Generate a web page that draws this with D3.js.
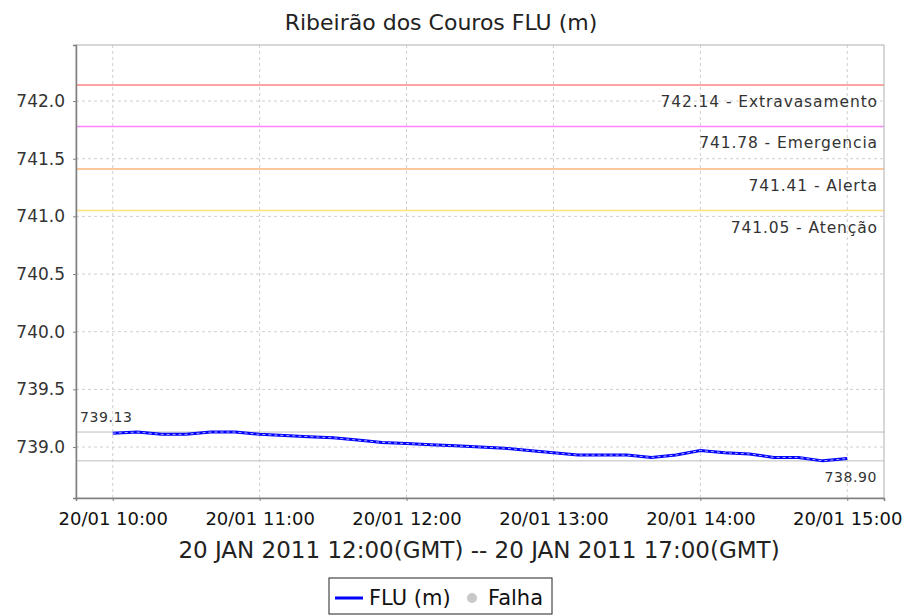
<!DOCTYPE html>
<html>
<head>
<meta charset="utf-8">
<script src="https://cdn.jsdelivr.net/npm/d3@7"></script>
<style>
  body { margin: 0; background: #fff; }
  text { font-family: "DejaVu Sans", sans-serif; }
</style>
</head>
<body>
<div id="chart"></div>
<script>
// data
const times = ["10:00","10:10","10:20","10:30","10:40","10:50","11:00","11:10","11:20","11:30","11:40","11:50",
  "12:00","12:10","12:20","12:30","12:40","12:50","13:00","13:10","13:20","13:30","13:40","13:50",
  "14:00","14:10","14:20","14:30","14:40","14:50","15:00"]
const levels = [739.12,739.13,739.11,739.11,739.13,739.13,739.11,739.10,739.09,739.08,739.06,739.04,
  739.03,739.02,739.01,739.00,738.99,738.97,738.95,738.93,738.93,738.93,738.91,738.93,
  738.97,738.95,738.94,738.91,738.91,738.88,738.90]
const limitValues = [742.14, 741.78, 741.41, 741.05]
const limitNames = ["Extravasamento", "Emergencia", "Alerta", "Atenção"]
const limitColors = ["#ff8484", "#ff84ff", "#ffb474", "#ffe27a"]
const yTicks = [739.0, 739.5, 740.0, 740.5, 741.0, 741.5, 742.0]
const xTicks = ["10:00","11:00","12:00","13:00","14:00","15:00"]
const day = "2011-01-20"

const W = 903, H = 615
let margin = {top: 45, right: 19, bottom: 117, left: 76}
let pxX = W - margin.left - margin.right,
    pxY = H - margin.top - margin.bottom

let parse = d3.utcParse("%Y-%m-%d %H:%M")
let fmt = d3.utcFormat("%d/%m %H:%M")
let points = times.map((t, i) => ({t: parse(day + " " + t), v: levels[i]}))

let scX = d3.scaleUtc()
  .domain([parse(day + " 09:45"), parse(day + " 15:15")])
  .range([0, pxX])
let scY = d3.scaleLinear().domain([738.558, 742.486]).range([pxY, 0])

let svg = d3.select("#chart").append("svg")
  .attr("width", W).attr("height", H)
  .style("background", "#fff")

svg.append("text")
  .attr("x", 441).attr("y", 30)
  .attr("text-anchor", "middle")
  .attr("font-size", "22px")
  .attr("fill", "#222")
  .text("Ribeirão dos Couros FLU (m)")

let g = svg.append("g").attr("transform", `translate(${margin.left},${margin.top})`)

// grid
let xDates = xTicks.map(t => parse(day + " " + t))
g.append("g").selectAll("line").data(xDates).enter().append("line")
  .attr("x1", d => scX(d)).attr("x2", d => scX(d))
  .attr("y1", 0).attr("y2", pxY)
  .attr("stroke", "#cfcfcf").attr("stroke-dasharray", "3,3")
g.append("g").selectAll("line").data(yTicks).enter().append("line")
  .attr("x1", 0).attr("x2", pxX)
  .attr("y1", d => scY(d)).attr("y2", d => scY(d))
  .attr("stroke", "#cfcfcf").attr("stroke-dasharray", "3,3")

// limit lines
limitValues.forEach((v, i) => {
  g.append("line")
    .attr("x1", 0).attr("x2", pxX)
    .attr("y1", scY(v)).attr("y2", scY(v))
    .attr("stroke", limitColors[i]).attr("stroke-width", 1.5)
  g.append("text")
    .attr("x", pxX - 6).attr("y", scY(v) + 22)
    .attr("text-anchor", "end")
    .attr("font-size", "15.5px")
    .attr("letter-spacing", "0.9px")
    .attr("fill", "#333")
    .text(v.toFixed(2) + " - " + limitNames[i])
})

// max / min lines
let [minV, maxV] = d3.extent(levels)
;[maxV, minV].forEach(v => {
  g.append("line")
    .attr("x1", 0).attr("x2", pxX)
    .attr("y1", scY(v)).attr("y2", scY(v))
    .attr("stroke", "#bdbdbd").attr("stroke-width", 1)
})
g.append("text")
  .attr("x", 4).attr("y", scY(maxV) - 10)
  .attr("font-size", "14px").attr("letter-spacing", "0.6px")
  .attr("fill", "#333")
  .text(maxV.toFixed(2))
g.append("text")
  .attr("x", pxX - 7).attr("y", scY(minV) + 21)
  .attr("text-anchor", "end")
  .attr("font-size", "14px").attr("letter-spacing", "0.6px")
  .attr("fill", "#333")
  .text(levels[levels.length - 1].toFixed(2))

// series
let line = d3.line().x(d => scX(d.t)).y(d => scY(d.v))
g.append("path").datum(points)
  .attr("d", line)
  .attr("fill", "none")
  .attr("stroke", "#0000ff")
  .attr("stroke-width", 3)
g.append("path").datum(points)
  .attr("d", line)
  .attr("fill", "none")
  .attr("stroke", "#fff")
  .attr("stroke-width", 1)
  .attr("stroke-dasharray", "3,3")
  .attr("opacity", 0.7)

// frame
g.append("rect")
  .attr("width", pxX).attr("height", pxY)
  .attr("fill", "none").attr("stroke", "#b0b0b0")

// axes
let yAxis = d3.axisLeft(scY).tickValues(yTicks).tickFormat(d3.format(".1f")).tickSize(3).tickPadding(8)
let ya = g.append("g").call(yAxis)
ya.select(".domain").attr("stroke", "#808080").attr("stroke-width", 1.5)
ya.selectAll(".tick line").attr("stroke", "#808080")
ya.selectAll("text").attr("font-size", "17px").attr("fill", "#333").attr("font-family", "DejaVu Sans")

let xAxis = d3.axisBottom(scX).tickValues(xDates).tickFormat(fmt).tickSize(3).tickPadding(11)
let xa = g.append("g").attr("transform", `translate(0,${pxY})`).call(xAxis)
xa.select(".domain").attr("stroke", "#808080").attr("stroke-width", 1.5)
xa.selectAll(".tick line").attr("stroke", "#808080")
xa.selectAll("text").attr("font-size", "18px").attr("fill", "#111").attr("font-family", "DejaVu Sans")

svg.append("text")
  .attr("x", 479).attr("y", 558)
  .attr("text-anchor", "middle")
  .attr("font-size", "23px")
  .attr("fill", "#222")
  .text("20 JAN 2011 12:00(GMT) -- 20 JAN 2011 17:00(GMT)")

// legend
let lg = svg.append("g").attr("transform", "translate(329,578)")
lg.append("rect").attr("width", 223).attr("height", 36)
  .attr("fill", "#fff").attr("stroke", "#222")
lg.append("line").attr("x1", 6).attr("x2", 34).attr("y1", 20).attr("y2", 20)
  .attr("stroke", "#0000ff").attr("stroke-width", 3)
lg.append("text").attr("x", 40).attr("y", 27).attr("font-size", "21px").attr("fill", "#111").text("FLU (m)")
lg.append("circle").attr("cx", 143).attr("cy", 20).attr("r", 5).attr("fill", "#c8c8c8")
lg.append("text").attr("x", 159).attr("y", 27).attr("font-size", "21px").attr("fill", "#111").text("Falha")
</script>
</body>
</html>
